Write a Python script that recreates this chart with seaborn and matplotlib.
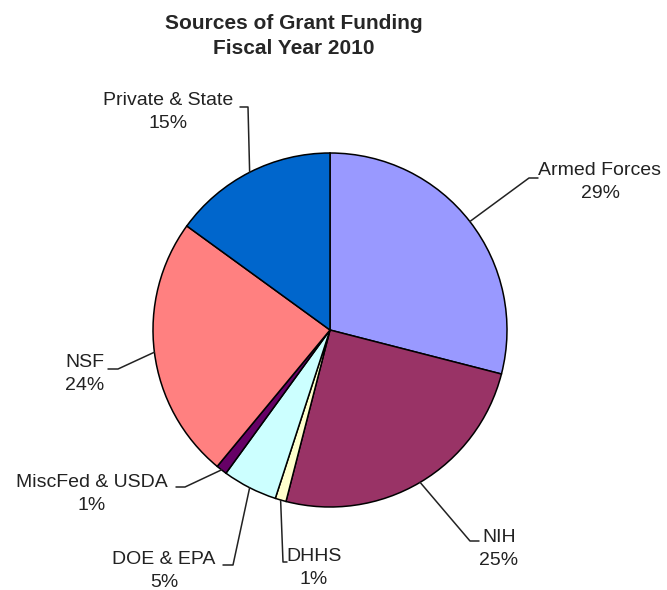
import numpy as np
import matplotlib
matplotlib.use('Agg')
import matplotlib.pyplot as plt
import seaborn as sns

# Data
sources = ['Armed Forces', 'NIH', 'DHHS', 'DOE & EPA', 'MiscFed & USDA', 'NSF', 'Private & State']
shares = [29, 25, 1, 5, 1, 24, 15]
colors = ['#9999FF', '#993366', '#FFFFCC', '#CCFFFF', '#660066', '#FF8080', '#0066CC']

# label layout (pixel coords, y from top): text centre, elbow, stub end
text_pos = [(600, 182), (499, 549), (314, 568), (164, 571), (92, 494), (85, 374), (168, 112)]
elbows = [(529, 178), (470, 541), (283, 562), (233, 565), (185, 487), (118, 369), (248, 107)]
stubs = [(538, 178), (479, 541), (287, 562), (223, 565), (176, 487), (108, 369), (240, 107)]

W, H = 667, 590
center = (330, 330)
radius = 177

sns.set_theme(style='white')
plt.rcParams['font.family'] = ['Liberation Sans', 'DejaVu Sans']

fig = plt.figure(figsize=(W / 100, H / 100), dpi=100)
ax = fig.add_axes([0, 0, 1, 1])

def fy(y):
    return H - y

wedges, _ = ax.pie(shares, colors=colors, startangle=90, counterclock=False,
                   center=(center[0], fy(center[1])), radius=radius,
                   wedgeprops=dict(edgecolor='black', linewidth=1.1))
ax.set_xlim(0, W)
ax.set_ylim(0, H)
ax.set_aspect('equal')
ax.axis('off')

for w, name, val, tp, el, st in zip(wedges, sources, shares, text_pos, elbows, stubs):
    mid = np.deg2rad((w.theta1 + w.theta2) / 2)
    ex = center[0] + radius * np.cos(mid)
    ey = fy(center[1]) + radius * np.sin(mid)
    ax.plot([ex, el[0], st[0]], [ey, fy(el[1]), fy(st[1])], color='#222222', lw=1.1)
    ax.text(tp[0], fy(tp[1]), f'{name}\n{val}%', ha='center', va='center',
            multialignment='center', fontsize=14, color='#222222', linespacing=1.4)

fig.text(294 / W, 1 - 36 / H, 'Sources of Grant Funding\nFiscal Year 2010', ha='center', va='center',
         fontsize=15, fontweight='bold', linespacing=1.4)

fig.savefig('out.png', dpi=100)
